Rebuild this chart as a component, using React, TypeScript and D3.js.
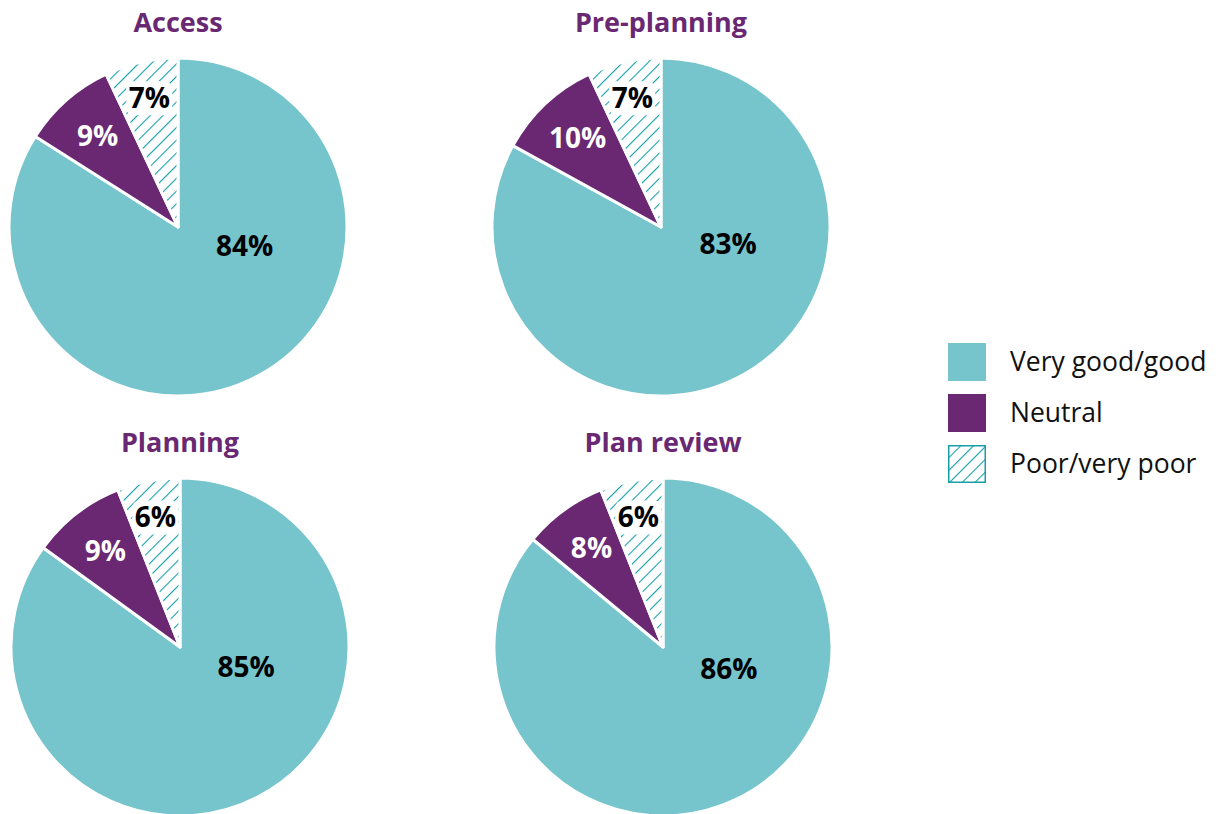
import React from "react";
import * as d3 from "d3";

const categories = ["Very good/good", "Neutral", "Poor/very poor"];
const stages = ["Access", "Pre-planning", "Planning", "Plan review"];
const veryGood = [84, 83, 85, 86];
const neutral = [9, 10, 9, 8];
const poor = [7, 7, 6, 6];

const TEAL = "#76c4cc";
const PURPLE = "#6a2873";
const HATCH = "#169fa9";
const FONT = "'Open Sans', 'Noto Sans', sans-serif";

const R = 169;
const centers: [number, number][] = [
  [178, 227],
  [661, 227],
  [180, 647],
  [663, 647],
];

function Pie({ idx }: { idx: number }) {
  const values = [veryGood[idx], neutral[idx], poor[idx]];
  const pie = d3.pie<number>().sort(null).value((d) => d);
  const arcs = pie(values);
  const arc = d3.arc<d3.PieArcDatum<number>>().innerRadius(0).outerRadius(R);
  const [cx, cy] = centers[idx];
  const labelPos = (a: d3.PieArcDatum<number>, i: number) => {
    let ang: number;
    let rad: number;
    if (i === 0) {
      ang = a.startAngle + (a.endAngle - a.startAngle) * 0.35;
      rad = R * 0.41;
    } else {
      ang = (a.startAngle + a.endAngle) / 2;
      rad = R * (i === 1 ? 0.72 : 0.78);
    }
    return [Math.sin(ang) * rad, -Math.cos(ang) * rad];
  };
  return (
    <g transform={`translate(${cx},${cy})`}>
      {arcs.map((a, i) => (
        <path
          key={i}
          d={arc(a) || ""}
          fill={i === 0 ? TEAL : i === 1 ? PURPLE : "url(#hatch)"}
          stroke="#fff"
          strokeWidth={3}
          strokeLinejoin="round"
        />
      ))}
      {arcs.map((a, i) => {
        const [x, y] = labelPos(a, i);
        const txt = `${values[i]}%`;
        return (
          <g key={"l" + i} transform={`translate(${x},${y})`}>
            {i === 2 && (
              <rect x={-23} y={-17} width={46} height={34} rx={7} fill="#fff" />
            )}
            <text
              textAnchor="middle"
              dy="0.35em"
              fontFamily={FONT}
              fontWeight={700}
              fontSize={28}
              fill={i === 1 ? "#fff" : "#000"}
            >
              {txt}
            </text>
          </g>
        );
      })}
      <text
        x={0}
        y={-R - 26}
        textAnchor="middle"
        fontFamily={FONT}
        fontWeight={700}
        fontSize={27}
        fill={PURPLE}
      >
        {stages[idx]}
      </text>
    </g>
  );
}

export default function App() {
  const legendColors = [TEAL, PURPLE, "url(#hatch)"];
  return (
    <svg
      width={1219}
      height={814}
      style={{ position: "absolute", left: 0, top: 0, background: "#fff" }}
    >
      <defs>
        <pattern
          id="hatch"
          patternUnits="userSpaceOnUse"
          width={9}
          height={9}
          patternTransform="rotate(45)"
        >
          <rect width={9} height={9} fill="#fff" />
          <line x1={0} y1={0} x2={0} y2={9} stroke={HATCH} strokeWidth={2.2} />
        </pattern>
      </defs>
      {stages.map((_, i) => (
        <Pie key={i} idx={i} />
      ))}
      <g transform="translate(948,343)">
        {categories.map((c, i) => (
          <g key={c} transform={`translate(0,${i * 51})`}>
            <rect
              x={i === 2 ? 0.75 : 0}
              y={i === 2 ? 0.75 : 0}
              width={i === 2 ? 36.5 : 38}
              height={i === 2 ? 36.5 : 38}
              fill={legendColors[i]}
              stroke={i === 2 ? HATCH : "none"}
              strokeWidth={1.5}
            />
            <text
              x={62}
              y={19}
              dy="0.35em"
              fontFamily={FONT}
              fontSize={26.5}
              fill="#111"
            >
              {c}
            </text>
          </g>
        ))}
      </g>
    </svg>
  );
}
